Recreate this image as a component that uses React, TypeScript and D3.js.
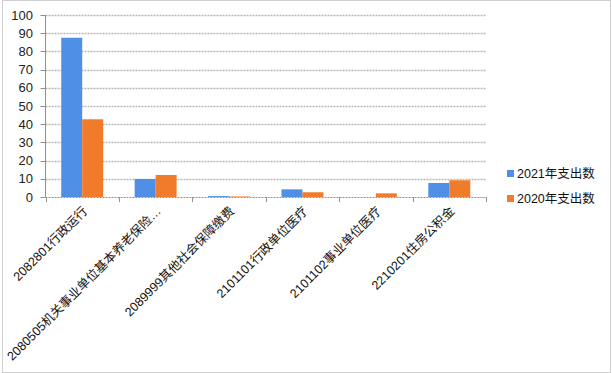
import React from "react";
import * as d3 from "d3";

const categories = [
  "2082801行政运行",
  "2080505机关事业单位基本养老保险…",
  "2089999其他社会保障缴费",
  "2101101行政单位医疗",
  "2101102事业单位医疗",
  "2210201住房公积金",
];
const series2021 = [87.5, 9.9, 0.5, 4.2, 0, 7.7];
const series2020 = [42.7, 12.1, 0.3, 2.6, 2.0, 9.2];
const seriesNames = ["2021年支出数", "2020年支出数"];
const yTicks = [0, 10, 20, 30, 40, 50, 60, 70, 80, 90, 100];

const colors = ["#4f8fe6", "#f07b2a"];
const font = "'Liberation Sans', Arial, 'Noto Sans CJK SC', sans-serif";

export default function App() {
  const W = 612, H = 373;
  const left = 45.5, right = 486, top = 15, bottom = 197;
  const x = d3.scaleBand<number>().domain(d3.range(categories.length)).range([left, right]).paddingInner(0).paddingOuter(0);
  const y = d3.scaleLinear().domain([0, 100]).range([bottom, top]);
  const bw = x.bandwidth();
  const barW = bw / 3.5;
  const allSeries = [series2021, series2020];

  return (
    <svg width={W} height={H} style={{ position: "absolute", left: 0, top: 0, background: "#fff" }} fontFamily={font}>
      <rect x={2.5} y={0.5} width={608} height={372} fill="#fff" stroke="#a0a0a0" strokeDasharray="1,1" />
      {yTicks.map((t) => (
        <g key={t}>
          {t > 0 && (
            <line x1={left} x2={right} y1={Math.round(y(t)) + 0.5} y2={Math.round(y(t)) + 0.5} stroke="#b8b8b8" strokeWidth={1.5} strokeDasharray="2,1" />
          )}
          <line x1={left - 5} x2={left} y1={Math.round(y(t)) + 0.5} y2={Math.round(y(t)) + 0.5} stroke="#909090" />
          <text x={33} y={y(t)} dy="0.35em" textAnchor="end" fontSize={13} fill="#222">{t}</text>
        </g>
      ))}
      {allSeries.map((s, si) =>
        s.map((v, i) => {
          const x0 = (x(i) as number) + bw * 0.75 / 3.5 + si * barW;
          return <rect key={si + "-" + i} x={x0} y={y(v)} width={barW} height={bottom - y(v)} fill={colors[si]} />;
        })
      )}
      <line x1={left} x2={left} y1={top} y2={bottom} stroke="#909090" />
      <line x1={left} x2={right} y1={bottom + 0.5} y2={bottom + 0.5} stroke="#909090" strokeDasharray="2,1" />
      {d3.range(categories.length + 1).map((i) => {
        const tx = Math.round(left + i * bw) + 0.5;
        return <line key={i} x1={tx} x2={tx} y1={bottom} y2={bottom + 5} stroke="#909090" />;
      })}
      {categories.map((c, i) => {
        const cx = (x(i) as number) + bw / 2 + 6;
        const cy = bottom + 15;
        return (
          <text key={c} transform={`translate(${cx},${cy}) rotate(-45)`} textAnchor="end" fontSize={12.5} fill="#111">
            {c}
          </text>
        );
      })}
      {seriesNames.map((n, i) => {
        const ly = 174 + i * 25;
        return (
          <g key={n}>
            <rect x={507} y={ly - 4} width={7} height={7} fill={colors[i]} />
            <text x={517} y={ly} dy="0.35em" fontSize={12.5} fill="#111">{n}</text>
          </g>
        );
      })}
    </svg>
  );
}
